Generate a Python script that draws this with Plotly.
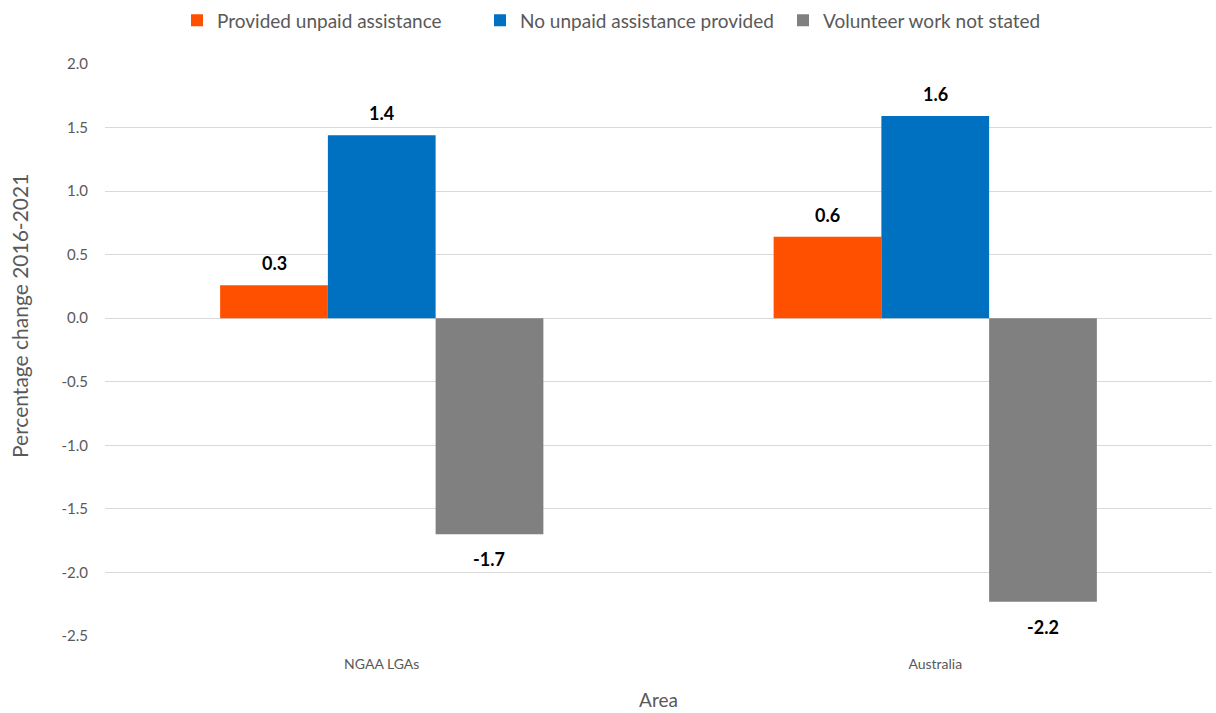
import plotly.graph_objects as go

# Areas compared and percentage-point change 2016-2021 for each volunteer status
areas = ["NGAA LGAs", "Australia"]
provided_unpaid = [0.26, 0.64]
no_unpaid = [1.44, 1.59]
not_stated = [-1.70, -2.23]

series_names = [
    "Provided unpaid assistance",
    "No unpaid assistance provided",
    "Volunteer work not stated",
]
series_values = [provided_unpaid, no_unpaid, not_stated]
series_colors = ["#FF5000", "#0070C0", "#808080"]

y_ticks = [2.0, 1.5, 1.0, 0.5, 0.0, -0.5, -1.0, -1.5, -2.0, -2.5]
y_tick_text = [f"{v:.1f}" for v in y_ticks]

font_family = "Lato, 'Open Sans', sans-serif"
axis_grey = "#595959"

# layout geometry used to place the value labels over each bar of a group
margin_l, margin_r, margin_t, margin_b = 105, 4, 64, 77
fig_w, fig_h = 1216, 713
bargap = 0.416
n_series = len(series_names)
plot_w = fig_w - margin_l - margin_r
plot_h = fig_h - margin_t - margin_b
bar_px = plot_w / len(areas) * (1 - bargap) / n_series

fig = go.Figure()
for name, vals, color in zip(series_names, series_values, series_colors):
    fig.add_trace(
        go.Bar(
            x=areas,
            y=vals,
            name=name,
            marker=dict(color=color, line=dict(width=0)),
        )
    )

# bold value labels, above positive bars and below negative ones
annotations = []
for si, vals in enumerate(series_values):
    for area, v in zip(areas, vals):
        annotations.append(
            dict(
                x=area,
                y=v,
                xref="x",
                yref="y",
                text=f"{v:.1f}",
                showarrow=False,
                xshift=(si - (n_series - 1) / 2) * bar_px,
                yshift=22 if v >= 0 else -25,
                yanchor="middle",
                font=dict(family=font_family, size=18, color="#000000", weight="bold"),
            )
        )

# vertical axis title, centred a little above the plot's middle
annotations.append(
    dict(
        text="Percentage change 2016-2021",
        textangle=-90,
        xref="paper",
        x=(19 - margin_l) / plot_w,
        xanchor="center",
        yref="paper",
        y=(fig_h - margin_b - 316) / plot_h,
        yanchor="middle",
        showarrow=False,
        font=dict(family=font_family, size=21, color=axis_grey),
    )
)

fig.update_layout(
    width=fig_w,
    height=fig_h,
    margin=dict(l=margin_l, r=margin_r, t=margin_t, b=margin_b),
    paper_bgcolor="white",
    plot_bgcolor="white",
    barmode="group",
    bargap=bargap,
    bargroupgap=0,
    font=dict(family=font_family, color=axis_grey),
    annotations=annotations,
    legend=dict(
        orientation="h",
        x=(177 - margin_l) / plot_w,
        xanchor="left",
        y=0.998,
        yanchor="top",
        yref="container",
        font=dict(size=19, color=axis_grey),
        itemwidth=30,
        entrywidth=258,
        entrywidthmode="pixels",
        traceorder="normal",
    ),
    showlegend=True,
)

fig.update_yaxes(
    range=[-2.5, 2.0],
    tickvals=y_ticks,
    ticktext=y_tick_text,
    showgrid=True,
    gridcolor="#D9D9D9",
    gridwidth=1,
    zeroline=True,
    zerolinecolor="#D9D9D9",
    zerolinewidth=1,
    showline=False,
    ticks="",
    ticklabelstandoff=16,
    tickfont=dict(size=15, color=axis_grey),
)

fig.update_xaxes(
    showgrid=False,
    showline=False,
    ticks="",
    ticklabelstandoff=18,
    tickfont=dict(size=14, color=axis_grey),
    title=dict(text="Area", font=dict(size=19, color=axis_grey), standoff=22),
)

fig.write_html("out.html")
